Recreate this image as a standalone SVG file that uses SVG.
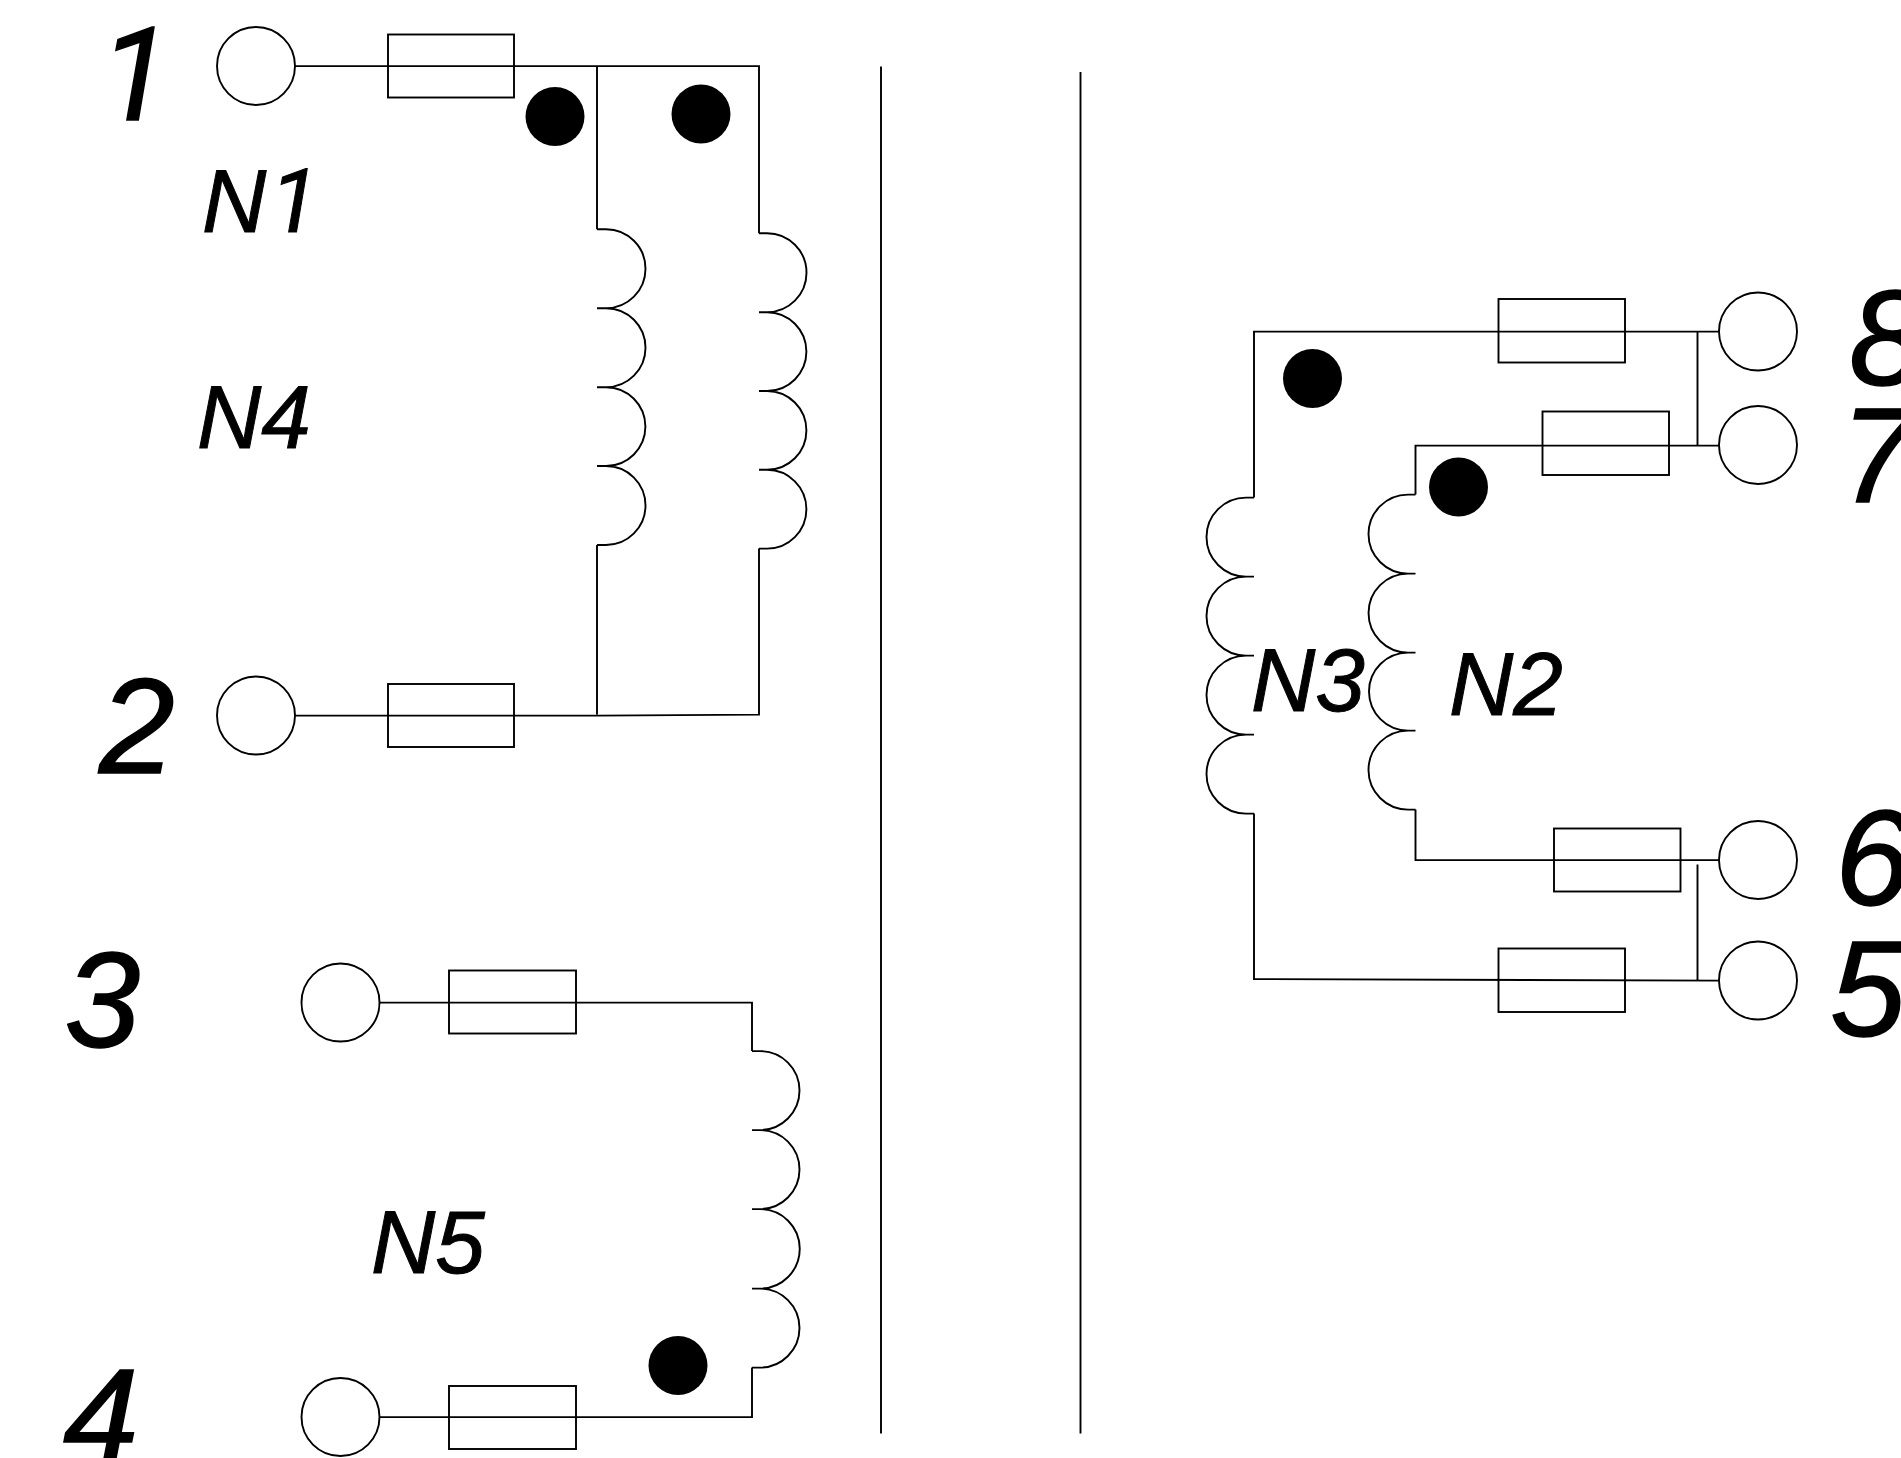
<svg xmlns="http://www.w3.org/2000/svg" width="1901" height="1458" viewBox="0 0 1901 1458">
<style>
.w{fill:none;stroke:#000;stroke-width:1.9}
.c{fill:none;stroke:#000;stroke-width:1.9}
.r{fill:none;stroke:#000;stroke-width:1.9}
.d{fill:#000}
text{font-family:"Liberation Sans",Arial,sans-serif;font-style:italic;fill:#000;stroke:#000}
.n{font-size:136px;stroke-width:1.4}
.l{font-size:89px;stroke-width:1}
.o{font-family:Roboto,"Liberation Sans",sans-serif}
</style>
<rect width="1901" height="1458" fill="#fff"/>
<g id="connectors" transform="translate(0,0.6)">
<path class="w" d="M295,65.5H759V232.6M597,65.5V228.6M295,715H597L759,714V548M597,544.4V714"/>
<path class="w" d="M597,228.6H606A1,1 0 0 1 606,307.6H597M597,307.6H606A1,1 0 0 1 606,386.6H597M597,386.6H606A1,1 0 0 1 606,465.4H597M597,465.4H606A1,1 0 0 1 606,544.4H597"/>
<path class="w" d="M759,232.6H767A1,1 0 0 1 767,311.6H759M759,311.6H767A1,1 0 0 1 767,390.4H759M759,390.4H767A1,1 0 0 1 767,469.2H759M759,469.2H767A1,1 0 0 1 767,548H759"/>
<path class="w" d="M380,1002H752V1050.5M380,1416.5H752V1367"/>
<path class="w" d="M752,1050.5H760A1,1 0 0 1 760,1129.5H752M752,1129.5H760A1,1 0 0 1 760,1208.5H752M752,1208.5H760A1,1 0 0 1 760,1288H752M752,1288H760A1,1 0 0 1 760,1367H752"/>
<path class="w" d="M1719,331H1254V497M1719,445H1415.5V494M1719,859.5H1415.5V809M1719,980L1254,978.5V813M1697.5,331V445M1697.5,864V980"/>
<path class="w" d="M1254,497H1246A1,1 0 0 0 1246,576H1254M1254,576H1246A1,1 0 0 0 1246,655H1254M1254,655H1246A1,1 0 0 0 1246,734H1254M1254,734H1246A1,1 0 0 0 1246,813H1254"/>
<path class="w" d="M1415.5,494H1408A1,1 0 0 0 1408,573H1415.5M1415.5,573H1408A1,1 0 0 0 1408,652H1415.5M1415.5,652H1408A1,1 0 0 0 1408,730H1415.5M1415.5,730H1408A1,1 0 0 0 1408,809H1415.5"/>
<path class="w" d="M881,66V1433M1080.5,71.5V1433"/>
</g>
<g id="pin1"><circle class="c" cx="256" cy="66" r="39"/><text class="n o" x="100" y="120" style="font-size:130px">1</text></g>
<g id="pin2"><circle class="c" cx="256" cy="715.5" r="39"/><text class="n" x="99" y="773">2</text></g>
<g id="pin3"><circle class="c" cx="340.5" cy="1002.5" r="39"/><text class="n" x="64.5" y="1047">3</text></g>
<g id="pin4"><circle class="c" cx="340.5" cy="1417" r="39"/><text class="n" x="63" y="1463">4</text></g>
<g id="pin5"><circle class="c" cx="1758" cy="980.5" r="39"/><text class="n" x="1830" y="1036">5</text></g>
<g id="pin6"><circle class="c" cx="1758" cy="860" r="39"/><text class="n" x="1835" y="905">6</text></g>
<g id="pin7"><circle class="c" cx="1758" cy="445" r="39"/><text class="n" x="1840" y="502">7</text></g>
<g id="pin8"><circle class="c" cx="1758" cy="331.5" r="39"/><text class="n" x="1849" y="385">8</text></g>
<g id="fuse1"><rect class="r" x="388" y="34.5" width="126" height="63"/></g>
<g id="fuse2"><rect class="r" x="388" y="684" width="126" height="63"/></g>
<g id="fuse3"><rect class="r" x="449" y="970.5" width="127" height="63"/></g>
<g id="fuse4"><rect class="r" x="449" y="1386" width="127" height="63"/></g>
<g id="fuse8"><rect class="r" x="1498.5" y="299" width="126.5" height="63.5"/></g>
<g id="fuse7"><rect class="r" x="1542.5" y="411.5" width="126.5" height="63.5"/></g>
<g id="fuse6"><rect class="r" x="1554" y="828.5" width="126.5" height="63"/></g>
<g id="fuse5"><rect class="r" x="1498.5" y="948.5" width="126.5" height="63.5"/></g>
<g id="dots">
<circle class="d" cx="555" cy="116.5" r="29.5"/>
<circle class="d" cx="701" cy="114" r="29.5"/>
<circle class="d" cx="678" cy="1365.5" r="29.5"/>
<circle class="d" cx="1312.5" cy="378.5" r="29.5"/>
<circle class="d" cx="1458.5" cy="487" r="29.5"/>
</g>
<g id="labels">
<text class="l" x="202" y="232">N<tspan class="o" dx="4">1</tspan></text>
<text class="l" x="197" y="448">N4</text>
<text class="l" x="371" y="1273">N5</text>
<text class="l" x="1251" y="711">N3</text>
<text class="l" x="1449" y="715">N2</text>
</g>
</svg>
